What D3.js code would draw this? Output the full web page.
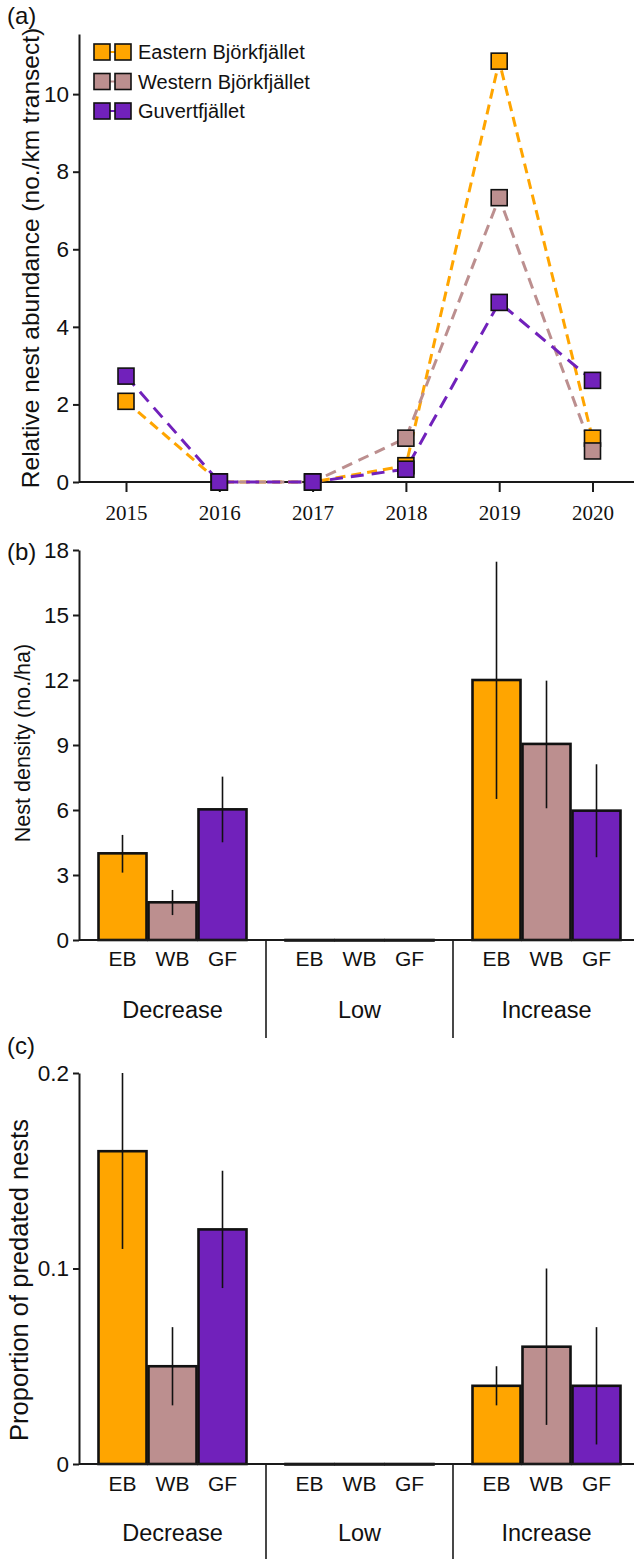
<!DOCTYPE html>
<head>
  <meta charset="utf-8">
  <style>
    body { margin: 0; background: #fff; }
    svg text { fill: #111; font-family: 'Liberation Sans', Arial, sans-serif; }
    .axis path, .axis line { stroke: #1a1a1a; stroke-width: 2; }
    .year text { font-family: 'Liberation Serif', 'Times New Roman', serif; font-size: 21px; }
  </style>
</head>
<body>
<script src="https://cdn.jsdelivr.net/npm/d3@7"></script>
<script>
  // ---------------- data ----------------
  const years = [2015, 2016, 2017, 2018, 2019, 2020];
  const siteNames = ["Eastern Björkfjället", "Western Björkfjället", "Guvertfjället"];
  const ebAbund = [2.08, 0, 0, 0.42, 10.85, 1.13];
  const wbAbund = [null, 0, 0, 1.13, 7.33, 0.80];
  const gfAbund = [2.73, 0, 0, 0.33, 4.63, 2.62];

  const groups = ["Decrease", "Low", "Increase"];
  const sites = ["EB", "WB", "GF"];
  const siteColors = ["#FFA500", "#BC8F8F", "#7121BB"];

  // nest density (no./ha), one array per phase, in site order
  const densDecrease = [4.0, 1.74, 6.03];
  const densLow = [0, 0, 0];
  const densIncrease = [12.0, 9.05, 5.97];
  const densLoDecrease = [3.11, 1.15, 4.51];
  const densHiDecrease = [4.85, 2.31, 7.54];
  const densLoIncrease = [6.51, 6.08, 3.82];
  const densHiIncrease = [17.46, 11.97, 8.11];

  // proportion of predated nests
  const predDecrease = [0.16, 0.05, 0.12];
  const predLow = [0, 0, 0];
  const predIncrease = [0.04, 0.06, 0.04];
  const predLoDecrease = [0.11, 0.03, 0.09];
  const predHiDecrease = [0.20, 0.07, 0.15];
  const predLoIncrease = [0.03, 0.02, 0.01];
  const predHiIncrease = [0.05, 0.10, 0.07];

  const densTicks = [0, 3, 6, 9, 12, 15, 18];
  const predTicks = [0, 0.1, 0.2];
  const abundTicks = [0, 2, 4, 6, 8, 10];

  // ---------------- layout ----------------
  const width = 634, height = 1559;
  const axisX = 79;

  const svg = d3.select("body").append("svg")
    .attr("width", width).attr("height", height);

  function panelLabel(txt, y) {
    svg.append("text").attr("x", 7).attr("y", y).attr("dy", "0.35em")
      .style("font-size", "24px").text(txt);
  }

  function yTitle(txt, x, yMid, size) {
    svg.append("text")
      .attr("transform", "translate(" + x + "," + yMid + ") rotate(-90)")
      .attr("text-anchor", "middle").attr("dy", "0.35em")
      .style("font-size", size + "px").text(txt);
  }

  //----------------------------- (a) -----------------------------//
  const xa = d3.scaleLinear().domain([2015, 2020]).range([126, 592.5]);
  const ya = d3.scaleLinear().domain([0, 11.55]).range([482, 34]);

  svg.append("g").attr("class", "axis")
    .attr("transform", "translate(" + axisX + ",0)")
    .call(d3.axisLeft(ya).tickValues(abundTicks).tickSize(6).tickSizeOuter(0).tickPadding(4))
    .selectAll("text").style("font-size", "22.5px").attr("fill", "#111");

  const xAxisA = svg.append("g").attr("class", "axis year")
    .attr("transform", "translate(0," + ya(0) + ")")
    .call(d3.axisBottom(xa).tickValues(years).tickFormat(d3.format("d")).tickSize(10).tickPadding(13));
  xAxisA.select(".domain").remove();
  xAxisA.selectAll("text").attr("fill", "#111");
  svg.append("line").attr("x1", axisX).attr("x2", width)
    .attr("y1", ya(0)).attr("y2", ya(0))
    .attr("stroke", "#1a1a1a").attr("stroke-width", 2);

  const seriesA = [ebAbund, wbAbund, gfAbund];
  const dashes = ["10,6", "11,7", "13,8"];
  const lineA = d3.line()
    .defined(d => d.v !== null)
    .x(d => xa(d.year)).y(d => ya(d.v));

  seriesA.forEach((vals, i) => {
    const pts = years.map((yr, j) => ({year: yr, v: vals[j]}));
    svg.append("path").datum(pts)
      .attr("d", lineA)
      .attr("fill", "none")
      .attr("stroke", siteColors[i])
      .attr("stroke-width", 3)
      .attr("stroke-dasharray", dashes[i]);
  });
  const sq = 16;
  seriesA.forEach((vals, i) => {
    const pts = years.map((yr, j) => ({year: yr, v: vals[j]})).filter(d => d.v !== null);
    svg.append("g").selectAll("rect").data(pts).enter().append("rect")
      .attr("x", d => xa(d.year) - sq / 2)
      .attr("y", d => ya(d.v) - sq / 2)
      .attr("width", sq).attr("height", sq)
      .attr("fill", siteColors[i])
      .attr("stroke", "#111").attr("stroke-width", 1.6);
  });

  // legend
  const legend = svg.append("g").attr("transform", "translate(94,52)");
  siteNames.forEach((name, i) => {
    const g = legend.append("g").attr("transform", "translate(0," + (i * 29.5) + ")");
    g.append("line").attr("x1", 8).attr("x2", 29).attr("y1", 0).attr("y2", 0)
      .attr("stroke", siteColors[i]).attr("stroke-width", 2);
    [0, 21].forEach(dx => {
      g.append("rect").attr("x", dx).attr("y", -8).attr("width", 16).attr("height", 16)
        .attr("fill", siteColors[i]).attr("stroke", "#111").attr("stroke-width", 1.6);
    });
    g.append("text").attr("x", 44).attr("dy", "0.35em")
      .style("font-size", "20px").text(name);
  });

  panelLabel("(a)", 16);
  yTitle("Relative nest abundance (no./km transect)", 30, 258, 24.5);

  //------------------------- bar panels --------------------------//
  const x0 = d3.scaleBand().domain(groups).range([axisX, axisX + 3 * 187]).padding(0);
  const x1 = d3.scaleBand().domain(sites).range([18.5, 168.5]).padding(0);

  function barPanel(opts) {
    const y = d3.scaleLinear().domain(opts.domain).range(opts.range);
    const g = svg.append("g");

    g.append("g").attr("class", "axis")
      .attr("transform", "translate(" + axisX + ",0)")
      .call(d3.axisLeft(y).tickValues(opts.ticks).tickFormat(opts.fmt)
        .tickSize(6).tickSizeOuter(0).tickPadding(4))
      .selectAll("text").style("font-size", "22.5px").attr("fill", "#111");

    const rows = groups.map((grp, gi) => sites.map((s, si) => ({
      group: grp, site: s, i: si,
      v: opts.values[gi][si],
      lo: opts.lo[gi] ? opts.lo[gi][si] : null,
      hi: opts.hi[gi] ? opts.hi[gi][si] : null
    }))).flat();

    g.selectAll("rect.bar").data(rows).enter().append("rect")
      .attr("class", "bar")
      .attr("x", d => x0(d.group) + x1(d.site) + 1)
      .attr("width", x1.bandwidth() - 2)
      .attr("y", d => y(d.v))
      .attr("height", d => Math.max(0.5, y(0) - y(d.v)))
      .attr("fill", d => siteColors[d.i])
      .attr("stroke", "#111").attr("stroke-width", 2.6);

    g.selectAll("line.err").data(rows.filter(d => d.lo !== null)).enter().append("line")
      .attr("class", "err")
      .attr("x1", d => x0(d.group) + x1(d.site) + x1.bandwidth() / 2)
      .attr("x2", d => x0(d.group) + x1(d.site) + x1.bandwidth() / 2)
      .attr("y1", d => y(d.lo)).attr("y2", d => y(d.hi))
      .attr("stroke", "#111").attr("stroke-width", 1.6);

    // baseline
    g.append("line").attr("x1", axisX).attr("x2", width)
      .attr("y1", y(0)).attr("y2", y(0))
      .attr("stroke", "#1a1a1a").attr("stroke-width", 2);

    // group separators
    groups.slice(1).forEach(grp => {
      g.append("line").attr("x1", x0(grp)).attr("x2", x0(grp))
        .attr("y1", y(0)).attr("y2", opts.sepEnd)
        .attr("stroke", "#1a1a1a").attr("stroke-width", 1.6);
    });

    // site labels and group labels
    g.selectAll("text.site").data(rows).enter().append("text")
      .attr("class", "site")
      .attr("x", d => x0(d.group) + x1(d.site) + x1.bandwidth() / 2)
      .attr("y", y(0) + opts.siteDy)
      .attr("text-anchor", "middle")
      .style("font-size", "21px")
      .text(d => d.site);

    g.selectAll("text.grp").data(groups).enter().append("text")
      .attr("class", "grp")
      .attr("x", d => x0(d) + x0.bandwidth() / 2)
      .attr("y", y(0) + opts.grpDy)
      .attr("text-anchor", "middle")
      .style("font-size", "23.5px")
      .text(d => d);
  }

  //----------------------------- (b) -----------------------------//
  barPanel({
    domain: [0, 18], range: [940, 550], ticks: densTicks, fmt: d3.format("d"),
    values: [densDecrease, densLow, densIncrease],
    lo: [densLoDecrease, null, densLoIncrease],
    hi: [densHiDecrease, null, densHiIncrease],
    sepEnd: 1038, siteDy: 26, grpDy: 78
  });
  panelLabel("(b)", 552);
  yTitle("Nest density (no./ha)", 22, 743, 21.5);

  //----------------------------- (c) -----------------------------//
  barPanel({
    domain: [0, 0.2], range: [1464, 1073], ticks: predTicks, fmt: d => d === 0 ? "0" : d3.format(".1f")(d),
    values: [predDecrease, predLow, predIncrease],
    lo: [predLoDecrease, null, predLoIncrease],
    hi: [predHiDecrease, null, predHiIncrease],
    sepEnd: 1559, siteDy: 27, grpDy: 77
  });
  panelLabel("(c)", 1046);
  yTitle("Proportion of predated nests", 19, 1280, 25.5);
</script>
</body>
